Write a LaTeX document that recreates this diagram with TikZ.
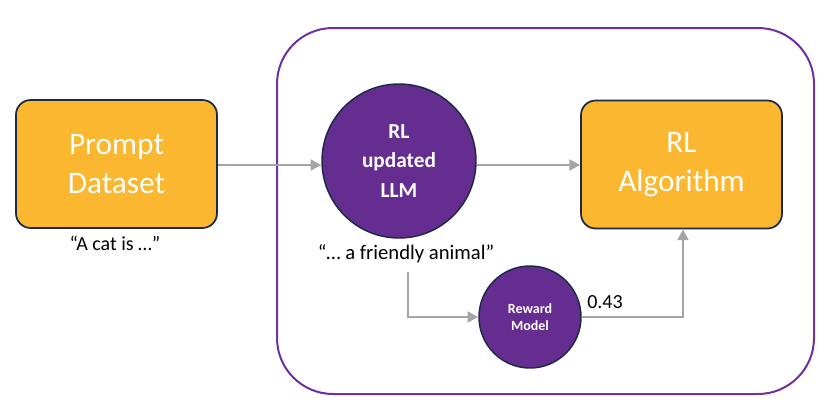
\documentclass[tikz,border=0pt]{standalone}
\usepackage{fontspec}
\setmainfont{Carlito}
\usetikzlibrary{arrows.meta}
\definecolor{boxorange}{HTML}{FBB72F}
\definecolor{circpurple}{HTML}{662D91}
\definecolor{edgenavy}{HTML}{1C2A45}
\definecolor{framepurple}{HTML}{7030A0}
\definecolor{arrowgrey}{HTML}{A5A5A5}
\tikzset{
  x=0.75pt, y=-0.75pt,
  orangebox/.style={draw=edgenavy, line width=1.3pt, fill=boxorange, rounded corners=11pt,
    minimum width=150.75pt, minimum height=96pt, inner sep=0pt, align=center,
    text=white, font=\fontsize{23.5}{29}\selectfont},
  purplecirc/.style={circle, draw=edgenavy, line width=1.1pt, fill=circpurple, inner sep=0pt,
    align=center, text=white, font=\bfseries},
  flow/.style={draw=arrowgrey, line width=2pt, -{Triangle[length=8pt,width=8pt]}},
  caption/.style={font=\fontsize{15}{18}\selectfont, inner sep=0pt}
}
\begin{document}
\begin{tikzpicture}
\useasboundingbox (0,0) rectangle (832,419);
% outer frame
\draw[framepurple, line width=1.5pt, rounded corners=42pt] (277,28) rectangle (814,394);
% nodes
\node[orangebox] (prompt) at (116.5,164) {Prompt\\Dataset};
\node[orangebox] (rlalg) at (681.5,164.5) {RL\\Algorithm};
\node[purplecirc, minimum size=115.5pt, font=\bfseries\fontsize{16}{22}\selectfont] (llm) at (399,161) {RL\\updated\\LLM};
\node[purplecirc, minimum size=76.5pt, font=\bfseries\fontsize{10.5}{13.3}\selectfont] (reward) at (530,317) {Reward\\Model};
\node[caption] (cat) at (115,243) {“A cat is …”};
\node[caption, font=\fontsize{15.5}{18}\selectfont] (friendly) at (406,254) {“… a friendly animal”};
\node[caption, anchor=south west] (score) at (587,309) {0.43};
\coordinate (fstart) at (408,272);
% connectors
\draw[flow] (prompt.east |- 0,165) -- (llm.west |- 0,165);
\draw[flow] (llm.east |- 0,165) -- (rlalg.west |- 0,165);
\draw[flow] (fstart) |- (reward.west);
\draw[flow] (reward.east) -| (683,0 |- rlalg.south);
\end{tikzpicture}
\end{document}
